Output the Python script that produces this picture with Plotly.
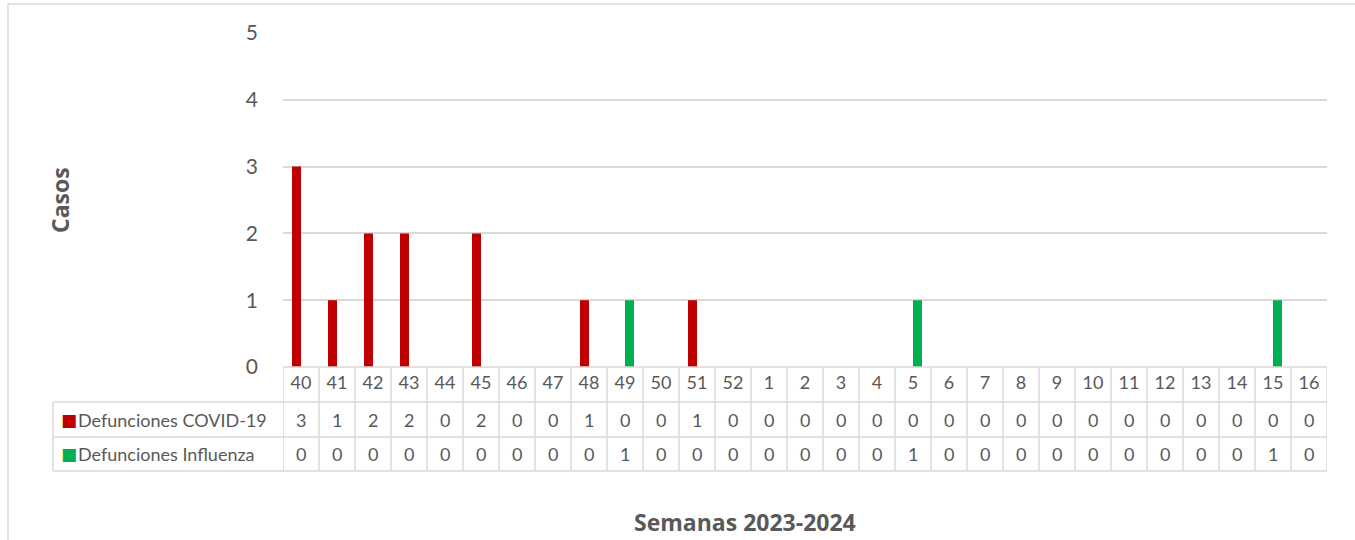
import plotly.graph_objects as go

semanas = ["40", "41", "42", "43", "44", "45", "46", "47", "48", "49", "50", "51", "52",
           "1", "2", "3", "4", "5", "6", "7", "8", "9", "10", "11", "12", "13", "14", "15", "16"]
covid = [3, 1, 2, 2, 0, 2, 0, 0, 1, 0, 0, 1, 0, 0, 0, 0, 0, 0, 0, 0, 0, 0, 0, 0, 0, 0, 0, 0, 0]
influenza = [0, 0, 0, 0, 0, 0, 0, 0, 0, 1, 0, 0, 0, 0, 0, 0, 0, 1, 0, 0, 0, 0, 0, 0, 0, 0, 0, 1, 0]
series_names = ["Defunciones COVID-19", "Defunciones Influenza"]
series_colors = ["#C00000", "#00B050"]
y_title = "Casos"
x_title = "Semanas 2023-2024"

W, H = 1355, 540
ML, MR, MT, MB = 283, 28, 33, 173
PW = W - ML - MR
PH = H - MT - MB

def py(px):  # pixel y -> paper y
    return (H - MB - px) / PH

def pxx(px):  # pixel x -> paper x
    return (px - ML) / PW

FONT = "Lato, Carlito, Calibri, sans-serif"
TFONT = "'Open Sans', sans-serif"
TXT = "#595959"
GRID = "#d9d9d9"

fig = go.Figure()
for name, vals, col in zip(series_names, [covid, influenza], series_colors):
    fig.add_trace(go.Bar(x=semanas, y=vals, name=name, marker=dict(color=col, line_width=0),
                         showlegend=False))

n = len(semanas)
shapes = []
annotations = []

y_hdr_bot = py(402)
y_r1_bot = py(437)
y_r2_bot = py(471)
x_tab_left = pxx(53)

line = dict(color=GRID, width=1.5)
shapes.append(dict(type="line", xref="x", yref="paper", x0=-0.5, x1=n - 0.5, y0=0, y1=0, line=line))
for yy in [y_hdr_bot, y_r1_bot, y_r2_bot]:
    shapes.append(dict(type="line", xref="paper", yref="paper", x0=x_tab_left, x1=1, y0=yy, y1=yy, line=line))
for k in range(n + 1):
    shapes.append(dict(type="line", xref="x", yref="paper", x0=k - 0.5, x1=k - 0.5, y0=0, y1=y_r2_bot, line=line))
shapes.append(dict(type="line", xref="paper", yref="paper", x0=x_tab_left, x1=x_tab_left,
                   y0=y_hdr_bot, y1=y_r2_bot, line=line))
# outer chart border
shapes.append(dict(type="rect", xref="paper", yref="paper", x0=pxx(8), x1=1.2, y0=py(4), y1=-0.8,
                   line=dict(color=GRID, width=1.5), fillcolor="rgba(0,0,0,0)", layer="below"))

row_centers = [(y_hdr_bot + y_r1_bot) / 2, (y_r1_bot + y_r2_bot) / 2]
for name, vals, col, yc in zip(series_names, [covid, influenza], series_colors, row_centers):
    annotations.append(dict(xref="paper", yref="paper", x=pxx(59), y=yc, xanchor="left", yanchor="middle",
                            text="■", showarrow=False,
                            font=dict(family="DejaVu Sans", size=17, color=col)))
    annotations.append(dict(xref="paper", yref="paper", x=pxx(76), y=yc, xanchor="left", yanchor="middle",
                            text=name, showarrow=False,
                            font=dict(family=FONT, size=18, color=TXT)))
    for i, v in enumerate(vals):
        annotations.append(dict(xref="x", yref="paper", x=i, y=yc, xanchor="center", yanchor="middle",
                                text=str(v), showarrow=False, font=dict(family=FONT, size=18, color=TXT)))

annotations.append(dict(xref="paper", yref="paper", x=pxx(60), y=py(200), text=f"<b>{y_title}</b>",
                        textangle=-90, showarrow=False, xanchor="center", yanchor="middle",
                        font=dict(family=TFONT, size=23, color=TXT)))
annotations.append(dict(xref="paper", yref="paper", x=pxx(745), y=py(522), text=f"<b>{x_title}</b>",
                        showarrow=False, xanchor="center", yanchor="middle",
                        font=dict(family=TFONT, size=23, color=TXT)))

fig.update_layout(
    width=W, height=H,
    margin=dict(l=ML, r=MR, t=MT, b=MB, pad=0),
    paper_bgcolor="white", plot_bgcolor="white",
    barmode="group", bargap=0.5, bargroupgap=0,
    shapes=shapes, annotations=annotations,
    xaxis=dict(type="category", categoryorder="array", categoryarray=semanas,
               showgrid=False, showline=False, zeroline=False, ticks="",
               tickfont=dict(family=FONT, size=18, color=TXT), ticklabelstandoff=3,
               range=[-0.5, n - 0.5], fixedrange=True),
    yaxis=dict(range=[0, 5], dtick=1, showgrid=True, gridcolor=GRID, gridwidth=1.5,
               zeroline=False, showline=False, ticks="", ticklabelstandoff=24,
               tickfont=dict(family=FONT, size=21, color=TXT), fixedrange=True),
    font=dict(family=FONT, color=TXT),
)

fig.write_html("out.html", config={"displayModeBar": False},
               post_script="document.body.style.margin='0';document.body.style.overflow='hidden';")
